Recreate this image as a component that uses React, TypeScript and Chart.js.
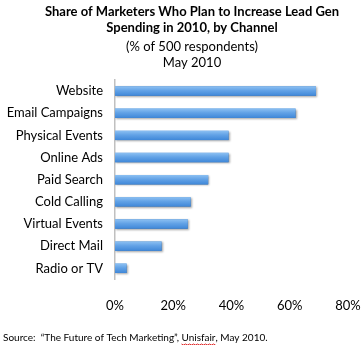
import React, { useEffect, useRef } from "react";
import { Chart, registerables } from "chart.js";

Chart.register(...registerables);

const categories = [
  "Website",
  "Email Campaigns",
  "Physical Events",
  "Online Ads",
  "Paid Search",
  "Cold Calling",
  "Virtual Events",
  "Direct Mail",
  "Radio or TV",
];
const values = [69, 62, 39, 39, 32, 26, 25, 16, 4];
const titleLines = ["Share of Marketers Who Plan to Increase Lead Gen", "Spending in 2010, by Channel"];
const subtitleLines = ["(% of 500 respondents)", "May 2010"];
const sourceText = "Source:  \u201CThe Future of Tech Marketing\u201D, ";
const sourceName = "Unisfair";
const sourceTail = ", May 2010.";

const FONT = "Lato, 'Open Sans', sans-serif";

const barShadePlugin = {
  id: "barShade",
  afterDatasetsDraw(chart: any) {
    const ctx = chart.ctx;
    const meta = chart.getDatasetMeta(0);
    ctx.save();
    meta.data.forEach((el: any) => {
      const left = Math.min(el.base, el.x);
      const right = Math.max(el.base, el.x);
      const top = el.y - el.height / 2;
      const h = el.height;
      const g = ctx.createLinearGradient(0, top, 0, top + h);
      g.addColorStop(0, "#8cc0f2");
      g.addColorStop(0.45, "#62a2e6");
      g.addColorStop(1, "#3f87d8");
      ctx.shadowColor = "rgba(0,0,0,0.35)";
      ctx.shadowBlur = 2;
      ctx.shadowOffsetX = 1;
      ctx.shadowOffsetY = 1;
      ctx.fillStyle = g;
      ctx.fillRect(left, top, right - left, h);
    });
    ctx.restore();
  },
};

const sourcePlugin = {
  id: "sourceNote",
  afterDraw(chart: any) {
    const ctx = chart.ctx;
    ctx.save();
    ctx.font = `10px ${FONT}`;
    ctx.fillStyle = "#000";
    ctx.textBaseline = "middle";
    ctx.textAlign = "left";
    const y = 338;
    let x = 3;
    ctx.fillText(sourceText, x, y);
    x += ctx.measureText(sourceText).width;
    ctx.fillText(sourceName, x, y);
    const w = ctx.measureText(sourceName).width;
    ctx.strokeStyle = "#e03030";
    ctx.lineWidth = 1;
    ctx.beginPath();
    for (let i = 0; i <= w; i += 2) {
      const yy = y + 6 + (i % 4 === 0 ? 0 : 1);
      if (i === 0) ctx.moveTo(x + i, yy);
      else ctx.lineTo(x + i, yy);
    }
    ctx.stroke();
    x += w;
    ctx.fillText(sourceTail, x, y);
    ctx.restore();
  },
};

export default function App() {
  const ref = useRef<HTMLCanvasElement>(null);
  useEffect(() => {
    if (!ref.current) return;
    const chart = new Chart(ref.current, {
      type: "bar",
      data: {
        labels: categories,
        datasets: [
          {
            data: values,
            backgroundColor: "#5b9be2",
            borderWidth: 0,
            barPercentage: 0.85,
            categoryPercentage: 0.5,
          },
        ],
      },
      options: {
        indexAxis: "y",
        animation: false,
        responsive: false,
        maintainAspectRatio: false,
        layout: { padding: { left: 0, right: -20, top: 0, bottom: 12 } },
        plugins: {
          legend: { display: false },
          tooltip: { enabled: false },
          title: {
            display: true,
            text: titleLines,
            color: "#000",
            font: { family: FONT, size: 13, weight: "bold", lineHeight: "16px" },
            padding: { top: 4, bottom: 3 },
          },
          subtitle: {
            display: true,
            text: subtitleLines,
            color: "#000",
            font: { family: FONT, size: 13, weight: "normal", lineHeight: "16px" },
            padding: { top: 0, bottom: 9 },
          },
        },
        scales: {
          x: {
            min: 0,
            max: 80,
            afterFit: (s: any) => {
              s.paddingLeft = 0;
              s.paddingRight = 16;
            },
            ticks: {
              stepSize: 20,
              padding: 19,
              color: "#000",
              font: { family: FONT, size: 13 },
              callback: (v: any) => v + "%",
            },
            grid: { display: false, drawTicks: false },
            border: { display: false },
          },
          y: {
            afterFit: (s: any) => {
              s.width = 115;
            },
            ticks: {
              color: "#000",
              padding: 12,
              font: { family: FONT, size: 13 },
            },
            grid: { display: false, drawTicks: false },
            border: { display: true, color: "#c0c0c0", width: 1.5 },
          },
        },
      },
      plugins: [barShadePlugin, sourcePlugin],
    });
    return () => chart.destroy();
  }, []);
  return (
    <div style={{ position: "absolute", left: 0, top: 0, width: 364, height: 345, background: "#fff", overflow: "hidden" }}>
      <canvas ref={ref} width={364} height={345} />
    </div>
  );
}
